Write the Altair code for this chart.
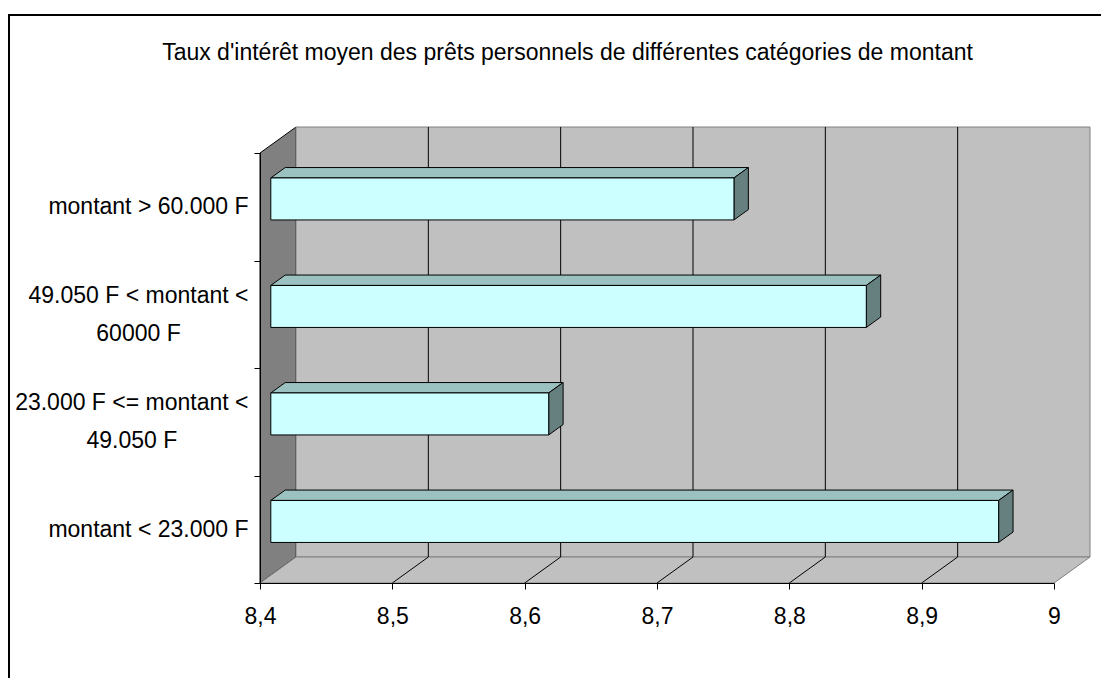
import altair as alt
import json
import pandas as pd

# ---------------- data ----------------
title_text = "Taux d'intérêt moyen des prêts personnels de différentes catégories de montant"
categories = [
    "montant > 60.000 F",
    "49.050 F < montant < 60000 F",
    "23.000 F <= montant < 49.050 F",
    "montant < 23.000 F",
]
label_lines = [
    ["montant > 60.000 F"],
    ["49.050 F < montant <", "60000 F"],
    ["23.000 F <= montant <", "49.050 F"],
    ["montant < 23.000 F"],
]
values = [8.75, 8.85, 8.61, 8.95]
x_ticks = [8.4, 8.5, 8.6, 8.7, 8.8, 8.9, 9.0]

# ---------------- style / geometry ----------------
W, H = 794, 430
PAD = {"left": 252, "top": 145, "right": 47, "bottom": 95}
DEPTH = (36, 26)          # 3D depth in pixels (right, up)
BAR_PX = 42               # bar front-face thickness in pixels
GAP = (0.3, 0.7)          # bar front / back depth fraction
FONT = "Liberation Sans"
FS = 23
LINE_H = 38
LBL_PAD = 6
FRONT, TOP, SIDE = "#CCFFFF", "#9BC2C0", "#668080"
LEFT_WALL, BACK_WALL, FLOOR = "#808080", "#C0C0C0", "#C0C0C0"

n = len(categories)
x_min, x_max = x_ticks[0], x_ticks[-1]
dxu = DEPTH[0] * (x_max - x_min) / W
dyu = DEPTH[1] * n / H
half = BAR_PX / 2 * n / H

xs = alt.Scale(domain=[x_min, x_max], nice=False, zero=False)
ys = alt.Scale(domain=[0, n], nice=False, zero=False)

# approximate Arial advance widths (per 1000 em) to centre multi-line labels
AW = {" ": 278, ".": 278, "<": 584, ">": 584, "=": 584,
      "F": 611, "m": 833, "o": 556, "n": 556, "t": 278, "a": 556}


def tw(s):
    return sum(AW.get(c, 556) for c in s) * FS / 1000


parts, pad_conds, multi = [], [], []
for i, lines in enumerate(label_lines):
    pos = n - 1 - i + 0.5
    parts.append(f"datum.value == {pos} ? {json.dumps(lines, ensure_ascii=False)}")
    if len(lines) > 1:
        multi.append(f"datum.value == {pos}")
        block = max(tw(l) for l in lines)
        pad_conds.append({"test": f"datum.value == {pos}", "value": round(LBL_PAD + block / 2, 1)})
y_label_expr = " : ".join(parts) + " : ''"
multi_test = " || ".join(multi) if multi else "false"

x_axis = alt.Axis(values=x_ticks, title=None, grid=False, zindex=1,
                  labelExpr="replace(format(datum.value, '~g'), '.', ',')",
                  labelFont=FONT, labelFontSize=FS, labelColor="black",
                  tickColor="black", tickSize=6, domainColor="black",
                  labelPadding=16, labelFlush=False, labelOverlap=False)
y_axis = alt.Axis(values=[k / 2 for k in range(2 * n + 1)], title=None, grid=False, zindex=1,
                  labelExpr=y_label_expr, labelFont=FONT, labelFontSize=FS,
                  labelColor="black", labelLineHeight=LINE_H,
                  labelAlign={"condition": {"test": multi_test, "value": "center"}, "value": "right"},
                  labelPadding={"condition": pad_conds, "value": LBL_PAD},
                  labelBaseline="middle", labelOverlap=False, labelLimit=0,
                  labelOffset={"condition": {"test": multi_test, "value": -LINE_H / 2}, "value": 0},
                  tickColor="black", tickSize=6, domainColor="black",
                  tickOpacity={"condition": {"test": "datum.value % 1 != 0", "value": 0}, "value": 1})


def X(field):
    return alt.X(field, type="quantitative", scale=xs, axis=x_axis)


def Y(field):
    return alt.Y(field, type="quantitative", scale=ys, axis=y_axis)


ends = pd.DataFrame({"s": [0.0, 1.0]})
ticks_df = pd.DataFrame({"t": x_ticks})
bars_df = pd.DataFrame({"category": categories, "value": values,
                        "pos": [n - 1 - i for i in range(n)]})
one = pd.DataFrame({"title": [title_text]})

# frame
frame = alt.Chart(one).mark_rect(
    fillOpacity=0, stroke="black", strokeWidth=2
).encode(x=alt.value(-251), x2=alt.value(1000), y=alt.value(-138), y2=alt.value(700))

# title
title = alt.Chart(one).mark_text(
    font=FONT, fontSize=FS, color="black", align="center", baseline="alphabetic"
).encode(text="title:N", x=alt.value(307.5), y=alt.value(-93))

# left wall
left_wall = alt.Chart(ends).transform_calculate(
    wx=f"{x_min} + datum.s * {dxu}",
    wy=f"datum.s * {dyu}",
    wy2=f"{n} + datum.s * {dyu}",
).mark_area(orient="vertical", fill=LEFT_WALL, stroke="black", strokeWidth=1).encode(
    x=X("wx"), y=Y("wy"), y2="wy2:Q",
)

# back wall
back_wall = alt.Chart(ticks_df).transform_aggregate(lo="min(t)", hi="max(t)").transform_calculate(
    bx=f"datum.lo + {dxu}", bx2=f"datum.hi + {dxu}", by=f"{dyu}", by2=f"{n} + {dyu}"
).mark_rect(fill=BACK_WALL, stroke="#808080", strokeWidth=1).encode(
    x=X("bx"), x2="bx2:Q", y=Y("by"), y2="by2:Q",
)

# floor
floor = alt.Chart(ends).transform_calculate(
    fy=f"datum.s * {dyu}",
    fx=f"{x_min} + datum.s * {dxu}",
    fx2=f"{x_max} + datum.s * {dxu}",
).mark_area(orient="horizontal", fill=FLOOR, stroke="#808080", strokeWidth=1).encode(
    y=Y("fy"), x=X("fx"), x2="fx2:Q",
)

inner = f"datum.t > {x_min} + 1e-9 && datum.t < {x_max} - 1e-9"

# gridlines on back wall
grid_back = alt.Chart(ticks_df).transform_filter(inner).transform_calculate(
    gx=f"datum.t + {dxu}", gy=f"{dyu}", gy2=f"{n} + {dyu}"
).mark_rule(color="black", strokeWidth=1).encode(
    x=X("gx"), y=Y("gy"), y2="gy2:Q",
)

# gridlines on floor
grid_floor = alt.Chart(ticks_df).transform_filter(inner).transform_calculate(
    gx2=f"datum.t + {dxu}", gy="0", gy2=f"{dyu}"
).mark_rule(color="black", strokeWidth=1).encode(
    x=X("t"), x2="gx2:Q", y=Y("gy"), y2="gy2:Q",
)

# bars
base = alt.Chart(bars_df).transform_calculate(
    s=f"[{GAP[0]}, {GAP[1]}]"
).transform_flatten(["s"]).transform_calculate(
    bx=f"{x_min} + datum.s * {dxu}",
    bx2=f"datum.value + datum.s * {dxu}",
    ylo=f"datum.pos + 0.5 - {half} + datum.s * {dyu}",
    yhi=f"datum.pos + 0.5 + {half} + datum.s * {dyu}",
)

top_face = base.mark_area(orient="horizontal", fill=TOP, stroke="black", strokeWidth=1).encode(
    y=Y("yhi"), x=X("bx"), x2="bx2:Q", detail="category:N",
)
side_face = base.mark_area(orient="vertical", fill=SIDE, stroke="black", strokeWidth=1).encode(
    x=X("bx2"), y=Y("ylo"), y2="yhi:Q", detail="category:N",
)
front_face = base.transform_filter(f"datum.s == {GAP[0]}").mark_rect(
    fill=FRONT, stroke="black", strokeWidth=1
).encode(
    x=X("bx"), x2="bx2:Q", y=Y("ylo"), y2="yhi:Q",
)

chart = alt.layer(
    frame, title, left_wall, back_wall, floor, grid_back, grid_floor,
    top_face, side_face, front_face
).properties(
    width=W, height=H, padding=PAD,
    autosize=alt.AutoSizeParams(type="none"),
    background="white",
).configure_view(stroke=None)

chart.save("out.html", embed_options={"renderer": "svg", "actions": False})
